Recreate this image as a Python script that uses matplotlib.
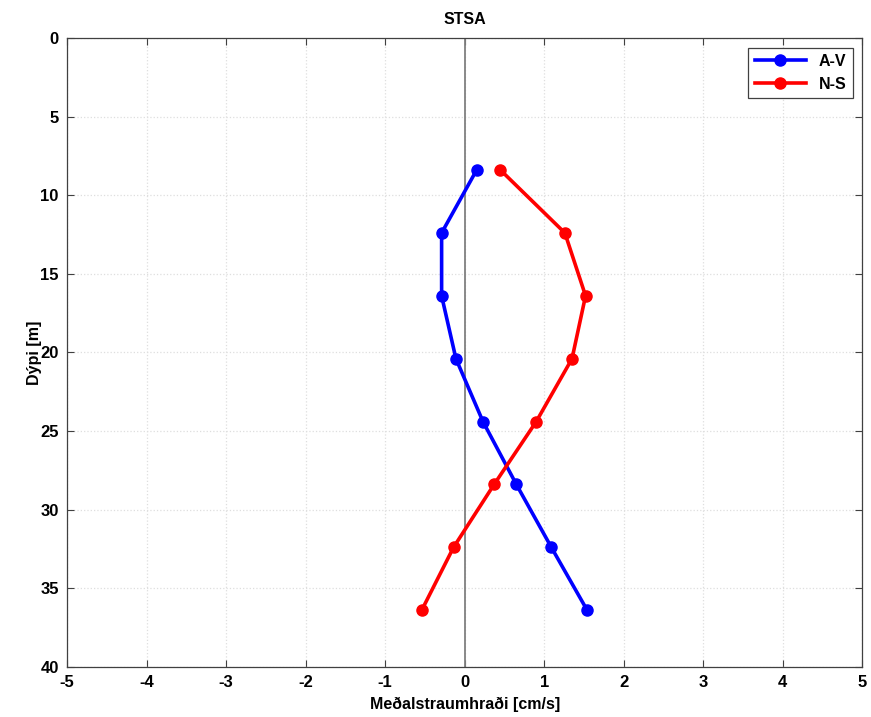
import matplotlib
matplotlib.use("Agg")
import matplotlib.pyplot as plt
import numpy as np

depth = [8.4, 12.4, 16.4, 20.4, 24.4, 28.4, 32.4, 36.4]
av = [0.15, -0.29, -0.29, -0.11, 0.23, 0.65, 1.09, 1.54]
ns = [0.45, 1.26, 1.52, 1.35, 0.90, 0.37, -0.14, -0.54]

plt.rcParams['font.family'] = ['Liberation Sans', 'DejaVu Sans']
plt.rcParams['font.weight'] = 'bold'
plt.rcParams['axes.unicode_minus'] = False

fig = plt.figure(figsize=(8.71, 7.17), dpi=100)
ax = fig.add_axes([0.077, 0.07, 0.913, 0.877])

ax.axvline(0, color='#808080', lw=1.3, zorder=1)
ax.plot(av, depth, '-o', color='#0000ff', lw=2.6, ms=8, label='A-V', zorder=3)
ax.plot(ns, depth, '-o', color='#ff0000', lw=2.6, ms=8, label='N-S', zorder=3)

ax.set_xlim(-5, 5)
ax.set_ylim(40, 0)
ax.set_xticks(np.arange(-5, 6, 1))
ax.set_yticks(np.arange(0, 41, 5))
ax.grid(True, color='#dedede', ls=':', lw=0.9)
ax.set_axisbelow(True)
ax.tick_params(direction='in', top=True, right=True, labelsize=12, length=5,
               color='#404040', pad=6)
for s in ax.spines.values():
    s.set_color('#404040')
    s.set_linewidth(0.9)

ax.set_xlabel('Meðalstraumhraði [cm/s]', fontsize=11.5, fontweight='bold', labelpad=5)
ax.set_ylabel('Dýpi [m]', fontsize=11.5, fontweight='bold', labelpad=-1)
ax.set_title('STSA', fontsize=11.5, fontweight='bold', pad=10)

leg = ax.legend(loc='upper right', fontsize=11.5, fancybox=False, framealpha=1,
                edgecolor='#404040', handlelength=3.2, borderaxespad=0.6)
leg.get_frame().set_linewidth(0.9)

fig.savefig('out.png', dpi=100)
